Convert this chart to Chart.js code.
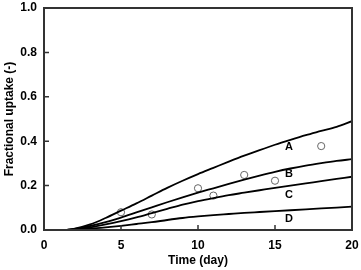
<!DOCTYPE html>
<html>
<head>
<meta charset="utf-8">
<script src="https://cdn.jsdelivr.net/npm/chart.js@4.4.1/dist/chart.umd.min.js"></script>
</head>
<body style="margin:0">
<canvas id="uptake-chart" width="361" height="270"></canvas>
<script>
const days = [0, 1, 1.5, 2, 3, 4, 5, 6, 7, 8, 9, 10, 11, 12, 13, 14, 15, 16, 17, 18, 19, 20];
const curveA = [0, 0, 0.001, 0.006, 0.025, 0.054, 0.087, 0.12, 0.155, 0.19, 0.222, 0.252, 0.28, 0.308, 0.335, 0.36, 0.384, 0.406, 0.427, 0.446, 0.465, 0.49];
const curveB = [0, 0, 0.001, 0.005, 0.018, 0.035, 0.056, 0.079, 0.102, 0.125, 0.147, 0.168, 0.188, 0.208, 0.227, 0.245, 0.262, 0.277, 0.29, 0.301, 0.311, 0.319];
const curveC = [0, 0, 0.001, 0.003, 0.012, 0.025, 0.04, 0.057, 0.076, 0.095, 0.114, 0.13, 0.144, 0.157, 0.168, 0.179, 0.19, 0.2, 0.21, 0.22, 0.23, 0.24];
const curveD = [0, 0, 0, 0.002, 0.006, 0.012, 0.019, 0.027, 0.035, 0.045, 0.054, 0.061, 0.067, 0.072, 0.077, 0.081, 0.085, 0.089, 0.093, 0.097, 0.101, 0.105];

const obsDays = [5, 7, 10, 11, 13, 15, 18];
const obsUptake = [0.08, 0.07, 0.188, 0.155, 0.248, 0.222, 0.378];

const curveNames = ["A", "B", "C", "D"];
const labelDay = [15.9, 15.9, 15.9, 15.9];
const labelUptake = [0.372, 0.252, 0.158, 0.048];

const xTicks = [0, 5, 10, 15, 20];
const yTicks = [0, 0.2, 0.4, 0.6, 0.8, 1.0];

const FONT = "Liberation Sans";
const INK = "#000";

function toPoints(xs, ys) {
  return xs.map((x, i) => ({ x: x, y: ys[i] }));
}

function lineSet(name, ys) {
  return {
    label: name,
    data: toPoints(days, ys),
    borderColor: INK,
    borderWidth: 1.8,
    pointRadius: 0,
    fill: false,
    cubicInterpolationMode: "monotone",
  };
}

// box, inward ticks and the curve letters
const decorations = {
  id: "decorations",
  afterDraw(chart) {
    const { ctx, chartArea: a, scales } = chart;
    ctx.save();
    ctx.strokeStyle = "#333";
    ctx.lineWidth = 2;
    ctx.strokeRect(a.left, a.top, a.right - a.left, a.bottom - a.top);

    ctx.lineWidth = 1.5;
    ctx.beginPath();
    xTicks.forEach((v) => {
      const px = scales.x.getPixelForValue(v);
      ctx.moveTo(px, a.bottom);
      ctx.lineTo(px, a.bottom - 5);
    });
    yTicks.forEach((v) => {
      const py = scales.y.getPixelForValue(v);
      ctx.moveTo(a.left, py);
      ctx.lineTo(a.left + 5, py);
    });
    ctx.stroke();

    ctx.fillStyle = INK;
    ctx.font = "bold 11px " + FONT;
    ctx.textAlign = "center";
    ctx.textBaseline = "middle";
    curveNames.forEach((n, i) => {
      ctx.fillText(n, scales.x.getPixelForValue(labelDay[i]), scales.y.getPixelForValue(labelUptake[i]));
    });
    ctx.restore();
  },
};

new Chart("uptake-chart", {
  type: "line",
  data: {
    datasets: [
      lineSet("A", curveA),
      lineSet("B", curveB),
      lineSet("C", curveC),
      lineSet("D", curveD),
      {
        label: "measured",
        data: toPoints(obsDays, obsUptake),
        pointStyle: "circle",
        pointRadius: 3.6,
        pointBackgroundColor: "#fff",
        pointBorderColor: "#666",
        pointBorderWidth: 1,
        showLine: false,
      },
    ],
  },
  options: {
    responsive: false,
    animation: false,
    layout: { padding: { top: 8, right: 9, left: 0, bottom: 0 } },
    plugins: { legend: { display: false }, tooltip: { enabled: false } },
    scales: {
      x: {
        type: "linear",
        min: 0,
        max: 20,
        afterBuildTicks: (s) => { s.ticks = xTicks.map((v) => ({ value: v })); },
        afterFit: (s) => { s.height = 40; s.paddingLeft = 0; s.paddingRight = 0; },
        grid: { display: false, drawTicks: false },
        border: { display: false },
        ticks: { color: INK, padding: 8, font: { family: FONT, size: 12, weight: "bold" } },
        title: {
          display: true,
          text: "Time (day)",
          color: INK,
          padding: { top: 2, bottom: 2 },
          font: { family: FONT, size: 12, weight: "bold" },
        },
      },
      y: {
        type: "linear",
        min: 0,
        max: 1,
        afterBuildTicks: (s) => { s.ticks = yTicks.map((v) => ({ value: v })); },
        afterFit: (s) => { s.width = 44; s.paddingTop = 0; s.paddingBottom = 0; },
        grid: { display: false, drawTicks: false },
        border: { display: false },
        ticks: {
          color: INK,
          padding: 7,
          font: { family: FONT, size: 12, weight: "bold" },
          callback: (v) => Number(v).toFixed(1),
        },
        title: {
          display: true,
          text: "Fractional uptake (-)",
          color: INK,
          padding: { top: 2, bottom: 0 },
          font: { family: FONT, size: 12, weight: "bold" },
        },
      },
    },
  },
  plugins: [decorations],
});
</script>
</body>
</html>
